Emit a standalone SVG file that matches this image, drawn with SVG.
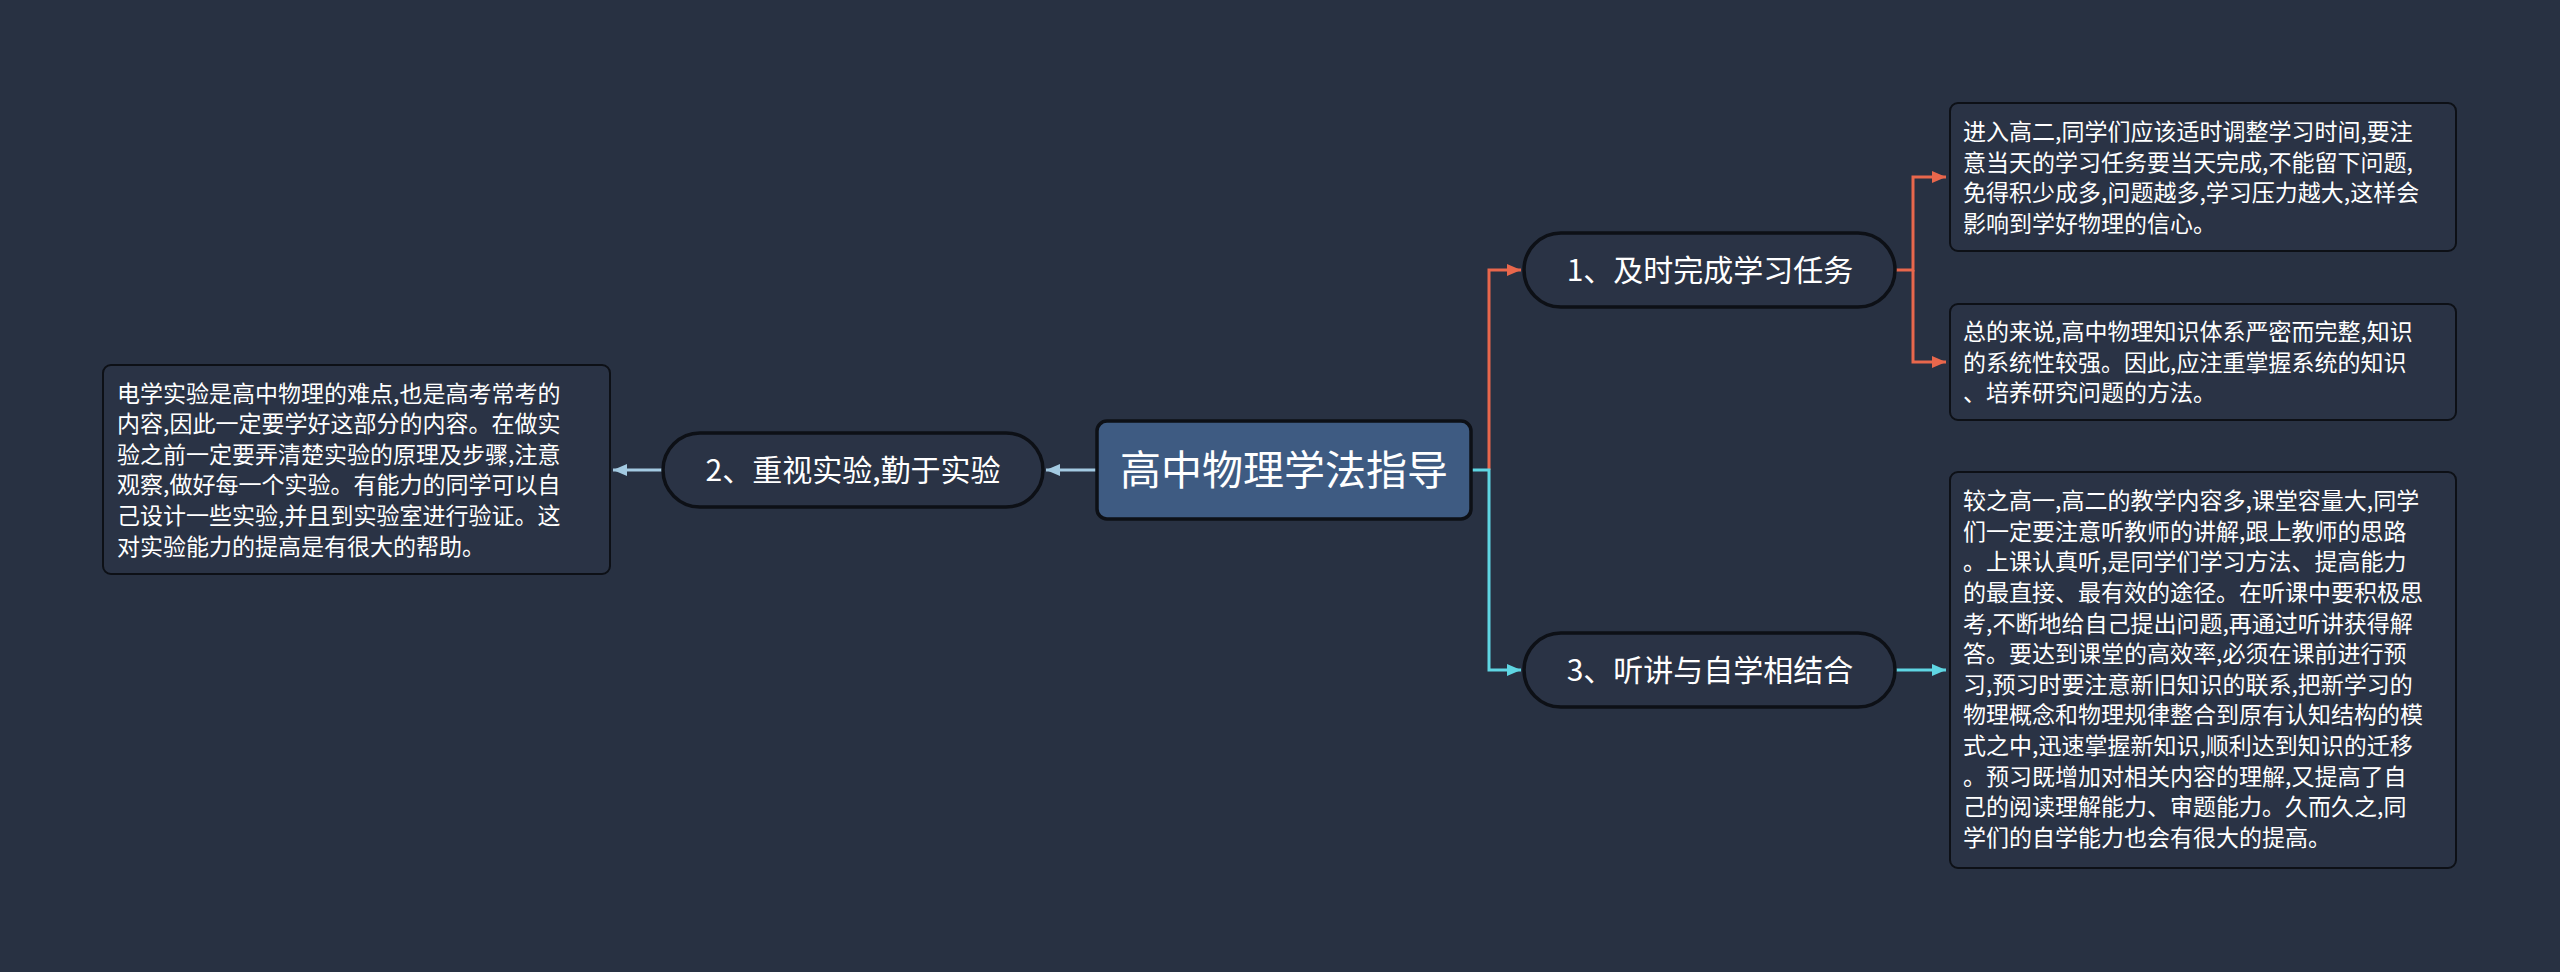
<svg xmlns="http://www.w3.org/2000/svg" width="2560" height="972" viewBox="0 0 2560 972">
<style>
.bg{fill:#283142}
.pill{fill:#2a3345;stroke:#0d1016;stroke-width:3.5}
.box{fill:#2a3345;stroke:#0d1016;stroke-width:2}
.root{fill:#3e5b82;stroke:#0d1016;stroke-width:3.5}
.t{font-family:"Noto Sans CJK SC","Microsoft YaHei",sans-serif;fill:#ffffff}
.tn{font-size:30px;text-anchor:middle}
.tr{font-size:41px;text-anchor:middle}
.tb{font-size:23px}
.c{fill:none;stroke-width:3}
.red{stroke:#e8674c}
.cyan{stroke:#5fd6e3}
.lb{stroke:#a3cae2}
</style>
<defs>
<marker id="aRed" markerUnits="userSpaceOnUse" markerWidth="14" markerHeight="12" refX="14" refY="6" orient="auto"><path d="M0,0 L14,6 L0,12 Z" fill="#e8674c"/></marker>
<marker id="aCyan" markerUnits="userSpaceOnUse" markerWidth="14" markerHeight="12" refX="14" refY="6" orient="auto"><path d="M0,0 L14,6 L0,12 Z" fill="#5fd6e3"/></marker>
<marker id="aLb" markerUnits="userSpaceOnUse" markerWidth="14" markerHeight="12" refX="14" refY="6" orient="auto"><path d="M0,0 L14,6 L0,12 Z" fill="#a3cae2"/></marker>
</defs>
<rect class="bg" x="0" y="0" width="2560" height="972"/>
<g id="connectors">
<path class="c red" d="M1489 470 V270 H1521" marker-end="url(#aRed)"/>
<path class="c cyan" d="M1471 470 H1489 V670 H1521" marker-end="url(#aCyan)"/>
<path class="c lb" d="M1097 470 H1046" marker-end="url(#aLb)"/>
<path class="c lb" d="M663 470 H613" marker-end="url(#aLb)"/>
<path class="c red" d="M1895 270 H1913 V177 H1946" marker-end="url(#aRed)"/>
<path class="c red" d="M1913 270 V362 H1946" marker-end="url(#aRed)"/>
<path class="c cyan" d="M1895 670 H1946" marker-end="url(#aCyan)"/>
</g>
<g id="root">
<rect class="root" x="1097" y="421" width="374" height="98" rx="10"/>
<text class="t tr" x="1284" y="485">高中物理学法指导</text>
</g>
<g id="node1">
<rect class="pill" x="1524" y="233" width="371" height="74" rx="37"/>
<text class="t tn" x="1710" y="281">1、及时完成学习任务</text>
</g>
<g id="node2">
<rect class="pill" x="663" y="433" width="380" height="74" rx="37"/>
<text class="t tn" x="853" y="481">2、重视实验,勤于实验</text>
</g>
<g id="node3">
<rect class="pill" x="1524" y="633" width="371" height="74" rx="37"/>
<text class="t tn" x="1710" y="681">3、听讲与自学相结合</text>
</g>
<g id="box1">
<rect class="box" x="1950" y="103" width="506" height="148" rx="8"/>
<text class="t tb" x="1963" y="140">
<tspan x="1963" y="140">进入高二,同学们应该适时调整学习时间,要注</tspan>
<tspan x="1963" y="170.6">意当天的学习任务要当天完成,不能留下问题,</tspan>
<tspan x="1963" y="201.2">免得积少成多,问题越多,学习压力越大,这样会</tspan>
<tspan x="1963" y="231.8">影响到学好物理的信心。</tspan>
</text>
</g>
<g id="box2">
<rect class="box" x="1950" y="304" width="506" height="116" rx="8"/>
<text class="t tb">
<tspan x="1963" y="340">总的来说,高中物理知识体系严密而完整,知识</tspan>
<tspan x="1963" y="370.6">的系统性较强。因此,应注重掌握系统的知识</tspan>
<tspan x="1963" y="401.2">、培养研究问题的方法。</tspan>
</text>
</g>
<g id="box3">
<rect class="box" x="1950" y="472" width="506" height="396" rx="8"/>
<text class="t tb">
<tspan x="1963" y="509.2">较之高一,高二的教学内容多,课堂容量大,同学</tspan>
<tspan x="1963" y="539.8">们一定要注意听教师的讲解,跟上教师的思路</tspan>
<tspan x="1963" y="570.4">。上课认真听,是同学们学习方法、提高能力</tspan>
<tspan x="1963" y="601">的最直接、最有效的途径。在听课中要积极思</tspan>
<tspan x="1963" y="631.6">考,不断地给自己提出问题,再通过听讲获得解</tspan>
<tspan x="1963" y="662.2">答。要达到课堂的高效率,必须在课前进行预</tspan>
<tspan x="1963" y="692.8">习,预习时要注意新旧知识的联系,把新学习的</tspan>
<tspan x="1963" y="723.4">物理概念和物理规律整合到原有认知结构的模</tspan>
<tspan x="1963" y="754">式之中,迅速掌握新知识,顺利达到知识的迁移</tspan>
<tspan x="1963" y="784.6">。预习既增加对相关内容的理解,又提高了自</tspan>
<tspan x="1963" y="815.2">己的阅读理解能力、审题能力。久而久之,同</tspan>
<tspan x="1963" y="845.8">学们的自学能力也会有很大的提高。</tspan>
</text>
</g>
<g id="box4">
<rect class="box" x="103" y="365" width="507" height="209" rx="8"/>
<text class="t tb">
<tspan x="117" y="401.5">电学实验是高中物理的难点,也是高考常考的</tspan>
<tspan x="117" y="432.1">内容,因此一定要学好这部分的内容。在做实</tspan>
<tspan x="117" y="462.7">验之前一定要弄清楚实验的原理及步骤,注意</tspan>
<tspan x="117" y="493.3">观察,做好每一个实验。有能力的同学可以自</tspan>
<tspan x="117" y="523.9">己设计一些实验,并且到实验室进行验证。这</tspan>
<tspan x="117" y="554.5">对实验能力的提高是有很大的帮助。</tspan>
</text>
</g>
</svg>
